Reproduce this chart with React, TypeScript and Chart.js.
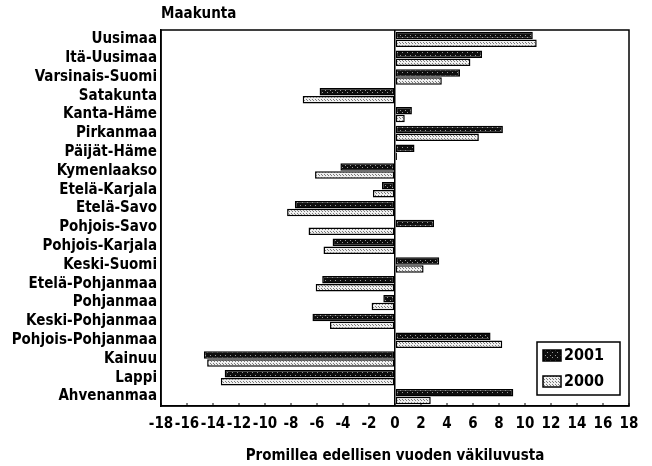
import React, { useEffect, useRef } from "react";
import { Chart, registerables } from "chart.js";

Chart.register(...registerables);

const categories = [
  "Uusimaa", "Itä-Uusimaa", "Varsinais-Suomi", "Satakunta", "Kanta-Häme",
  "Pirkanmaa", "Päijät-Häme", "Kymenlaakso", "Etelä-Karjala", "Etelä-Savo",
  "Pohjois-Savo", "Pohjois-Karjala", "Keski-Suomi", "Etelä-Pohjanmaa", "Pohjanmaa",
  "Keski-Pohjanmaa", "Pohjois-Pohjanmaa", "Kainuu", "Lappi", "Ahvenanmaa",
];
const values2001 = [10.6, 6.7, 5.0, -5.8, 1.3, 8.3, 1.5, -4.2, -1.0, -7.7, 3.0, -4.8, 3.4, -5.6, -0.9, -6.35, 7.35, -14.7, -13.1, 9.1];
const values2000 = [10.9, 5.8, 3.6, -7.1, 0.75, 6.45, 0.15, -6.15, -1.7, -8.3, -6.65, -5.5, 2.2, -6.1, -1.8, -5.0, 8.25, -14.45, -13.4, 2.75];
const seriesLabels = ["2001", "2000"];
const xMin = -18;
const xMax = 18;
const xStep = 2;
const chartTitle = "Maakunta";
const xTitle = "Promillea edellisen vuoden väkiluvusta";

const FONT = '"Liberation Sans Narrow", "DejaVu Sans Condensed", "Liberation Sans", sans-serif';

function makePattern(base: string, dot: string, n: number): CanvasPattern | string {
  const c = document.createElement("canvas");
  c.width = n;
  c.height = n;
  const g = c.getContext("2d");
  if (!g) return base;
  g.fillStyle = base;
  g.fillRect(0, 0, n, n);
  g.fillStyle = dot;
  g.fillRect(0, 0, 1, 1);
  g.fillRect(Math.floor(n / 2), Math.floor(n / 2), 1, 1);
  const p = g.createPattern(c, "repeat");
  return p || base;
}

const framePlugin = {
  id: "frame",
  afterDraw(chart: any) {
    const { ctx, chartArea } = chart;
    const { left, right, top, bottom } = chartArea;
    ctx.save();
    ctx.strokeStyle = "#000";
    ctx.lineWidth = 1.5;
    ctx.strokeRect(left, top, right - left, bottom - top);
    const xs = chart.scales.x;
    ctx.lineWidth = 1;
    for (let v = xMin; v <= xMax; v += xStep) {
      const px = xs.getPixelForValue(v);
      ctx.beginPath();
      ctx.moveTo(px, bottom);
      ctx.lineTo(px, bottom - 3);
      ctx.stroke();
    }
    const bw = 83;
    const bh = 53;
    const bx = right - 9 - bw;
    const by = bottom - 11 - bh;
    ctx.fillStyle = "#fff";
    ctx.fillRect(bx, by, bw, bh);
    ctx.lineWidth = 1.5;
    ctx.strokeRect(bx, by, bw, bh);
    chart.data.datasets.forEach((ds: any, i: number) => {
      const sy = by + 8 + i * 26;
      ctx.fillStyle = ds.backgroundColor;
      ctx.fillRect(bx + 6, sy, 18, 11);
      ctx.strokeStyle = "#000";
      ctx.lineWidth = 1.5;
      ctx.strokeRect(bx + 6, sy, 18, 11);
      ctx.fillStyle = "#000";
      ctx.font = "bold 16px " + FONT;
      ctx.textAlign = "left";
      ctx.textBaseline = "middle";
      ctx.fillText(ds.label, bx + 27, sy + 6);
    });
    ctx.restore();
  },
};

export default function App() {
  const ref = useRef<HTMLCanvasElement | null>(null);
  useEffect(() => {
    if (!ref.current) return;
    const dark = makePattern("#0e0e0e", "#9a9a9a", 5);
    const light = makePattern("#f0f0f0", "#7a7a7a", 3);
    const chart = new Chart(ref.current, {
      type: "bar",
      data: {
        labels: categories,
        datasets: [
          {
            label: seriesLabels[0],
            data: values2001,
            backgroundColor: dark as any,
            borderColor: "#000",
            borderWidth: 1.5,
            borderSkipped: false,
            categoryPercentage: 0.84,
            barPercentage: 0.95,
          },
          {
            label: seriesLabels[1],
            data: values2000,
            backgroundColor: light as any,
            borderColor: "#000",
            borderWidth: 1.5,
            borderSkipped: false,
            categoryPercentage: 0.84,
            barPercentage: 0.95,
          },
        ],
      },
      options: {
        indexAxis: "y",
        responsive: false,
        animation: false,
        layout: { padding: { top: 5, left: 0, right: 23, bottom: 0 } },
        plugins: {
          legend: { display: false },
          tooltip: { enabled: false },
          title: {
            display: true,
            text: chartTitle,
            align: "start",
            fullSize: false,
            color: "#000",
            font: { family: FONT, size: 15, weight: "bold" },
            padding: { top: 0, bottom: 7 },
          },
        },
        scales: {
          x: {
            type: "linear",
            min: xMin,
            max: xMax,
            ticks: {
              stepSize: xStep,
              autoSkip: false,
              maxRotation: 0,
              color: "#000",
              padding: 9,
              font: { family: FONT, size: 15, weight: "bold" },
            },
            grid: {
              drawTicks: false,
              color: (c: any) => (c.tick && c.tick.value === 0 ? "#000" : "rgba(0,0,0,0)"),
              lineWidth: 1.5,
            },
            border: { display: true, color: "#000", width: 1.5 },
            title: {
              display: true,
              text: xTitle,
              color: "#000",
              font: { family: FONT, size: 15, weight: "bold" },
              padding: { top: 4, bottom: 1 },
            },
            afterFit: (s: any) => {
              s.height = 60;
            },
          },
          y: {
            type: "category",
            ticks: {
              color: "#000",
              padding: 4,
              autoSkip: false,
              font: { family: FONT, size: 15, weight: "bold" },
            },
            grid: { display: false, drawTicks: false },
            border: { display: true, color: "#000", width: 1.5 },
            afterFit: (s: any) => {
              s.width = 161;
            },
          },
        },
      },
      plugins: [framePlugin],
    });
    return () => chart.destroy();
  }, []);
  return (
    <div style={{ position: "fixed", left: 0, top: 0, width: 652, height: 466, background: "#fff" }}>
      <canvas ref={ref} width={652} height={466} style={{ display: "block" }} />
    </div>
  );
}
